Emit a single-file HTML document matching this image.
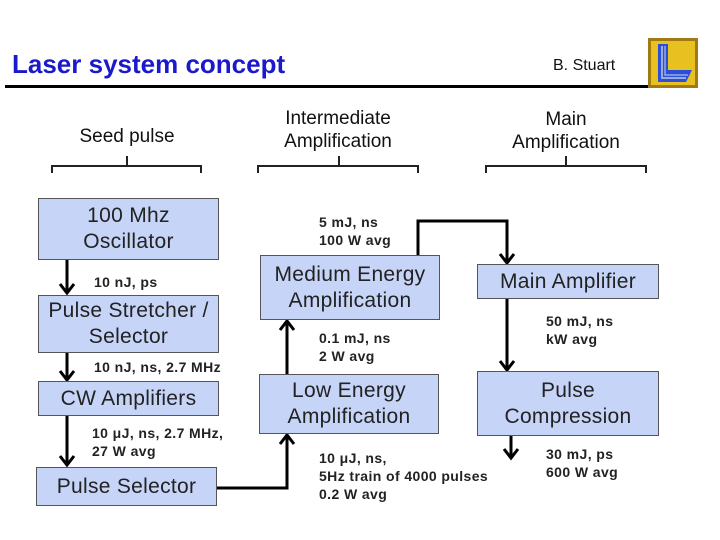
<!DOCTYPE html>
<html><head><meta charset="utf-8"><style>
body{margin:0;width:720px;height:540px;background:#fff;position:relative;overflow:hidden;font-family:"Liberation Sans",sans-serif}
.t{position:absolute;white-space:nowrap}
.b{position:absolute;background:#c6d4f7;border:1px solid #555;box-sizing:border-box;display:flex;align-items:center;justify-content:center;text-align:center;color:#222;font-size:21px;letter-spacing:0.3px;line-height:26px}
.l{position:absolute;font-size:14px;letter-spacing:0.4px;font-weight:bold;color:#222;line-height:18px;white-space:nowrap}
.h{position:absolute;font-size:19px;color:#111;text-align:center;line-height:23px}
</style></head><body>
<div class="t" style="left:12px;top:49px;font-size:26px;font-weight:bold;color:#1a1acc">Laser system concept</div>
<div class="t" style="left:553px;top:57px;font-size:16px;color:#111">B. Stuart</div>
<div style="position:absolute;left:5px;top:85px;width:643px;height:3px;background:#000"></div>
<svg style="position:absolute;left:648px;top:38px" width="50" height="50">
<rect x="0" y="0" width="50" height="50" fill="#a07a10"/>
<rect x="3" y="3" width="44" height="44" fill="#e8c020"/>
<path d="M10 6 L20 6 L20 32 L44 32 L38 44 L10 44 Z" fill="#2a4fd8"/>
<path d="M14 8 L14 40 L38 40" stroke="#9ad" stroke-width="2" fill="none"/>
<path d="M17 8 L17 37 L40 37" stroke="#9ad" stroke-width="1.5" fill="none"/>
</svg>
<div class="h" style="left:52px;top:125px;width:150px">Seed pulse</div>
<div class="h" style="left:258px;top:107px;width:160px">Intermediate<br>Amplification</div>
<div class="h" style="left:486px;top:108px;width:160px">Main<br>Amplification</div>
<svg style="position:absolute;left:0;top:0" width="720" height="540">
<g stroke="#222" stroke-width="2" fill="none">
<path d="M52 173 V166 H201 V173 M127 166 V156"/>
<path d="M258 173 V166 H418 V173 M339 166 V156"/>
<path d="M486 173 V166 H646 V173 M566 166 V156"/>
</g>
<g stroke="#000" stroke-width="3" fill="none">
<path d="M67 260 V292"/><path d="M60 284 L67 293 L74 284"/>
<path d="M67 353 V379"/><path d="M60 371 L67 380 L74 371"/>
<path d="M67 416 V464"/><path d="M60 456 L67 465 L74 456"/>
<path d="M217 488 H287 V436"/><path d="M280 444 L287 435 L294 444"/>
<path d="M287 374 V322"/><path d="M280 330 L287 321 L294 330"/>
<path d="M418 255 V221 H507 V262"/><path d="M500 254 L507 263 L514 254"/>
<path d="M507 299 V369"/><path d="M500 361 L507 370 L514 361"/>
<path d="M511 436 V457"/><path d="M504 449 L511 458 L518 449"/>
</g></svg>
<div class="b" style="left:38px;top:198px;width:181px;height:62px">100 Mhz<br>Oscillator</div>
<div class="b" style="left:38px;top:295px;width:181px;height:58px">Pulse Stretcher /<br>Selector</div>
<div class="b" style="left:38px;top:381px;width:181px;height:35px">CW Amplifiers</div>
<div class="b" style="left:36px;top:467px;width:181px;height:39px">Pulse Selector</div>
<div class="b" style="left:260px;top:255px;width:180px;height:65px">Medium Energy<br>Amplification</div>
<div class="b" style="left:259px;top:374px;width:180px;height:60px">Low Energy<br>Amplification</div>
<div class="b" style="left:477px;top:264px;width:182px;height:35px">Main Amplifier</div>
<div class="b" style="left:477px;top:371px;width:182px;height:65px">Pulse<br>Compression</div>
<div class="l" style="left:94px;top:273px">10 nJ, ps</div>
<div class="l" style="left:94px;top:358px">10 nJ, ns, 2.7 MHz</div>
<div class="l" style="left:92px;top:424px">10 μJ, ns, 2.7 MHz,<br>27 W avg</div>
<div class="l" style="left:319px;top:213px">5 mJ, ns<br>100 W avg</div>
<div class="l" style="left:319px;top:329px">0.1 mJ, ns<br>2 W avg</div>
<div class="l" style="left:319px;top:449px">10 μJ, ns,<br>5Hz train of 4000 pulses<br>0.2 W avg</div>
<div class="l" style="left:546px;top:312px">50 mJ, ns<br>kW avg</div>
<div class="l" style="left:546px;top:445px">30 mJ, ps<br>600 W avg</div>
</body></html>
